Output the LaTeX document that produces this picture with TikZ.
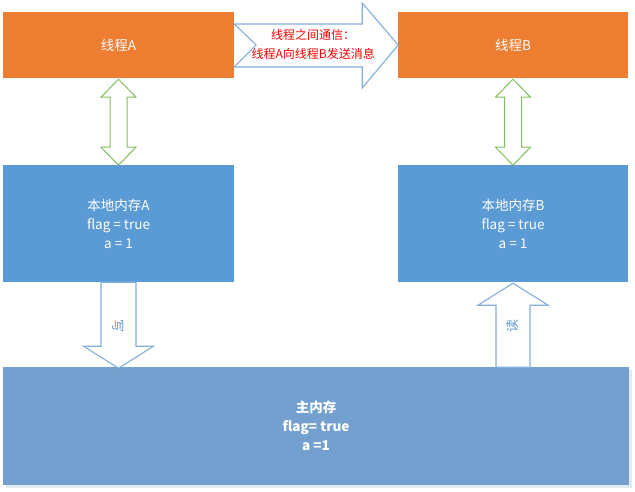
\documentclass[tikz,border=0pt]{standalone}
\usepackage{fontspec}
\setmainfont{Noto Sans CJK SC}
\usetikzlibrary{calc}
\definecolor{orng}{RGB}{237,125,49}
\definecolor{bluebox}{RGB}{91,155,213}
\definecolor{mainbox}{RGB}{115,160,206}
\definecolor{arrline}{RGB}{130,175,222}
\definecolor{grn}{RGB}{130,190,95}
\definecolor{lbl}{RGB}{91,155,213}
\begin{document}
\begin{tikzpicture}[x=1pt,y=-1pt,
  box/.style={draw=none,inner sep=0pt,text=white,align=center,font=\fontsize{13.5}{19}\selectfont},
  bluearr/.style={draw=arrline,fill=white,line width=1.1pt,line join=miter},
  grnarr/.style={draw=grn,fill=white,line width=1pt,line join=miter},
  lbltext/.style={text=lbl,font=\fontsize{13}{13}\selectfont,inner sep=0pt}]
\useasboundingbox (0,0) rectangle (635,492);
\fill[white] (0,0) rectangle (635,492);
% boxes
\node[box,fill=orng,minimum width=231pt,minimum height=66pt] (tA) at (118.5,45) {线程A};
\node[box,fill=orng,minimum width=230pt,minimum height=66pt] (tB) at (513,45) {线程B};
\node[box,fill=bluebox,minimum width=231pt,minimum height=117pt] (lA) at (118.5,223.5) {本地内存A\\flag = true\\a = 1};
\node[box,fill=bluebox,minimum width=230pt,minimum height=117pt] (lB) at (513,223.5) {本地内存B\\flag = true\\a = 1};
\fill[arrline!25] (6,370) rectangle (632,488);
\node[box,fill=mainbox,minimum width=626pt,minimum height=118pt,font=\bfseries\fontsize{13.5}{19}\selectfont] (mm) at (316,426) {主内存\\flag= true\\a =1};
% notched arrow between threads
\begin{scope}[shift={(tA.east)}]
  \draw[bluearr] (0,-21) -- (128,-21) -- (128,-42) -- (164,0) -- (128,43) -- (128,22) -- (0,22) -- (22,0) -- cycle;
  \node[text=red,align=center,font=\fontsize{12}{19}\selectfont,inner sep=0pt] (msg) at (79,-1) {线程之间通信：\\线程A向线程B发送消息};
\end{scope}
% green double arrows
\begin{scope}[shift={(tA.south)}]
  \draw[grnarr] (0,1) -- (17.5,19) -- (8.5,19) -- (8.5,69) -- (17.5,69) -- (0,87) -- (-17.5,69) -- (-8.5,69) -- (-8.5,19) -- (-17.5,19) -- cycle;
\end{scope}
\begin{scope}[shift={(tB.south)}]
  \draw[grnarr] (0,1) -- (17.5,19) -- (8.5,19) -- (8.5,69) -- (17.5,69) -- (0,87) -- (-17.5,69) -- (-8.5,69) -- (-8.5,19) -- (-17.5,19) -- cycle;
\end{scope}
% write arrow (down)
\begin{scope}[shift={(lA.south)}]
  \draw[bluearr] (-17.5,0) -- (17.5,0) -- (17.5,64) -- (35,64) -- (0,86) -- (-35,64) -- (-17.5,64) -- cycle;
  \node[lbltext,rotate=-90] (wr) at (0,44) {写};
\end{scope}
% read arrow (up)
\begin{scope}[shift={(lB.south)}]
  \draw[bluearr] (0,1) -- (35,23) -- (17,23) -- (17,85) -- (-17,85) -- (-17,23) -- (-35,23) -- cycle;
  \node[lbltext,rotate=90] (rd) at (0,44) {读};
\end{scope}
\end{tikzpicture}
\end{document}
